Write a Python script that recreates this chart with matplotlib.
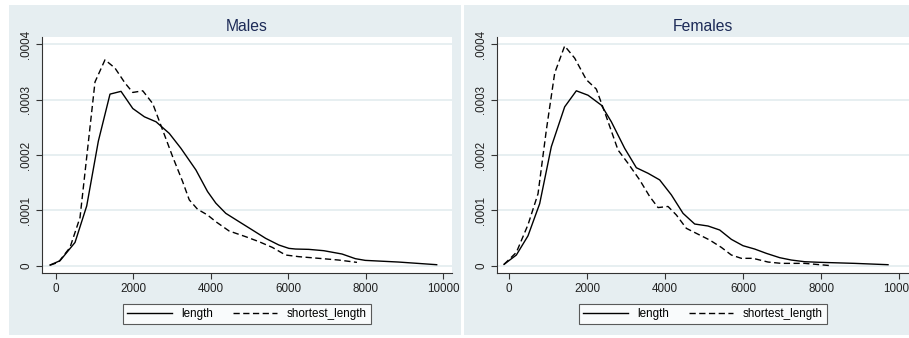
import numpy as np
import matplotlib
matplotlib.use("Agg")
import matplotlib.pyplot as plt
from matplotlib.patches import Rectangle

plt.rcParams["font.family"] = ["Liberation Sans", "DejaVu Sans"]

# Males, density curves
m_len_x = [-147, 111, 498, 800, 1100, 1401, 1685, 1989, 2289, 2589, 2931, 3232, 3618,
           3918, 4132, 4389, 4732, 5075, 5418, 5761, 6018, 6189, 6532, 6918, 7389,
           7732, 7989, 8846, 9832]
m_len_y = [0.0000012, 0.000009, 0.000042, 0.000108, 0.000225, 0.00031, 0.000315,
           0.000284, 0.000269, 0.00026, 0.000239, 0.000212, 0.000173, 0.000134, 0.000113,
           0.0000946, 0.0000795, 0.0000645, 0.0000494, 0.0000373, 0.0000313, 0.0000301,
           0.0000295, 0.0000271, 0.0000211, 0.0000127, 0.0000096, 0.0000066, 0.0000018]
m_short_x = [-147, 68, 369, 627, 1014, 1272, 1530, 1788, 1989, 2246, 2503, 2760,
             3017, 3275, 3446, 3660, 3918, 4132, 4475, 4903, 5246, 5589, 5932, 6275,
             6789, 7303, 7775]
m_short_y = [0.000001, 0.000006, 0.000033, 0.000087, 0.000332, 0.000372, 0.000357,
             0.00033, 0.000313, 0.000316, 0.000293, 0.000245, 0.000197,
             0.000152, 0.000119, 0.000102, 0.0000916, 0.0000795, 0.0000627, 0.0000524,
             0.0000434, 0.0000331, 0.0000193, 0.0000163, 0.0000133, 0.0000102, 0.000006]

# Females
f_len_x = [-128, 188, 487, 786, 1085, 1427, 1726, 2026, 2368, 2624, 2966, 3265, 3564,
           3863, 4162, 4462, 4761, 5103, 5402, 5701, 6000, 6299, 6598, 6940, 7239,
           7581, 8009, 8863, 9718]
f_len_y = [0.0000024, 0.0000193, 0.000054, 0.000112, 0.000215, 0.000287, 0.000316,
           0.000308, 0.00029, 0.00026, 0.000212, 0.000177, 0.000167, 0.000155, 0.000128,
           0.0000946, 0.0000753, 0.0000717, 0.0000645, 0.0000476, 0.0000361, 0.0000301,
           0.0000223, 0.0000145, 0.0000102, 0.0000072, 0.000006, 0.0000042, 0.0000018]
f_short_x = [-128, 188, 487, 744, 957, 1171, 1427, 1684, 1983, 2239, 2496, 2795, 3051,
             3350, 3607, 3821, 4077, 4291, 4547, 4889, 5145, 5444, 5701, 5957, 6256,
             6641, 6983, 7581, 8265]
f_short_y = [0.0000024, 0.000024, 0.000074, 0.00013, 0.000245, 0.000348, 0.000397,
             0.000375, 0.000336, 0.000319, 0.000269, 0.000209, 0.000185, 0.000155,
             0.000125, 0.000105, 0.000107, 0.0000916, 0.0000675, 0.0000554, 0.0000464,
             0.0000331, 0.0000193, 0.0000133, 0.0000133, 0.0000066, 0.0000042,
             0.0000042, 0.0]

panel_titles = ["Males", "Females"]
series_names = ["length", "shortest_length"]
x_ticks = [0, 2000, 4000, 6000, 8000, 10000]
y_ticks = [0, 0.0001, 0.0002, 0.0003, 0.0004]
y_tick_labels = ["0", ".0001", ".0002", ".0003", ".0004"]

W, H = 909, 338
bg = "#E6EEF1"
grid_c = "#E3ECEF"
navy = "#1C2A57"

fig = plt.figure(figsize=(W / 100, H / 100), dpi=100)
fig.patch.set_facecolor("white")


def px_box(x0, y0, x1, y1):
    # pixel box (top-left origin) -> figure fraction [l, b, w, h]
    return [x0 / W, 1 - y1 / H, (x1 - x0) / W, (y1 - y0) / H]


# panel backgrounds, drawn under the axes
for (x0, x1) in [(9, 461), (464, 912)]:
    l, b, w, h = px_box(x0, 5, x1, 335)
    fig.patches.append(Rectangle((l, b), w, h, transform=fig.transFigure,
                                 facecolor=bg, edgecolor="none", zorder=-10))

axes_px = [(42, 37, 452, 273), (497, 37, 909, 273)]
xlims = [(-354, 10227), (-308, 10256)]
data = [((m_len_x, m_len_y), (m_short_x, m_short_y)),
        ((f_len_x, f_len_y), (f_short_x, f_short_y))]

for i in range(2):
    ax = fig.add_axes(px_box(*axes_px[i]))
    ax.set_facecolor("white")
    (lx, ly), (sx, sy) = data[i]
    ax.plot(lx, ly, color="black", lw=1.0, label=series_names[0])
    ax.plot(sx, sy, color="black", lw=1.0, dashes=(4.5, 2.5), label=series_names[1])
    ax.set_xlim(*xlims[i])
    ax.set_ylim(-0.0000132, 0.0004132)
    ax.set_xticks(x_ticks)
    ax.set_xticklabels([str(t) for t in x_ticks], fontsize=8.4, color="#222222")
    ax.set_yticks(y_ticks)
    ax.set_yticklabels(y_tick_labels, fontsize=8.4, color="#222222",
                       rotation=90, va="center")
    ax.tick_params(axis="both", direction="out", length=4, width=0.8,
                   color="#333333", pad=3)
    for s in ["top", "right"]:
        ax.spines[s].set_visible(False)
    for s in ["left", "bottom"]:
        ax.spines[s].set_color("#333333")
        ax.spines[s].set_linewidth(0.8)
    for yt in y_ticks:
        ax.axhline(yt, color=grid_c, lw=1.2, zorder=0)
    ax.set_title(panel_titles[i], fontsize=11.3, color=navy, pad=4)
    leg = ax.legend(loc="upper center", bbox_to_anchor=(0.5, -0.105), ncol=2,
                    fontsize=8.4, frameon=True, fancybox=False, handlelength=3.8,
                    columnspacing=1.7, handletextpad=0.8, borderpad=0.35)
    leg.get_frame().set_edgecolor("#333333")
    leg.get_frame().set_linewidth(0.8)
    leg.get_frame().set_facecolor("white")

fig.savefig("out.png", dpi=100, facecolor=fig.get_facecolor())
